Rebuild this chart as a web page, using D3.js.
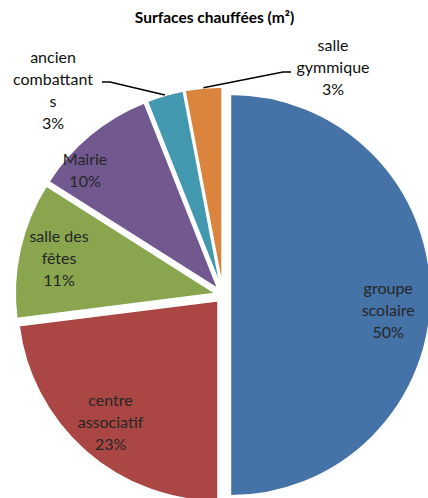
<!DOCTYPE html>
<html><head><meta charset="utf-8">
<script src="https://cdn.jsdelivr.net/npm/d3@7"></script>
<style>
html,body{margin:0;padding:0;background:#fff;overflow:hidden;}
svg{display:block;font-family:Lato,"Open Sans",sans-serif;}
</style></head>
<body>
<svg id="chart" width="428" height="498"></svg>
<script>
// ---- data ----
const title = "Surfaces chauffées (m²)";
const categories = ["groupe scolaire", "centre associatif", "salle des fêtes", "Mairie", "ancien combattants", "salle gymmique"];
const labelLines = [["groupe", "scolaire"], ["centre", "associatif"], ["salle des", "fêtes"], ["Mairie"], ["ancien", "combattant", "s"], ["salle", "gymmique"]];
const values = [50, 23, 11, 10, 3, 3];
const percentLabels = ["50%", "23%", "11%", "10%", "3%", "3%"];
const colors = ["#4572A7", "#AA4643", "#89A54E", "#71588F", "#4198AF", "#DB843D"];

// ---- layout ----
const W = 428, H = 498;
const cx = 223, cy = 295, R = 201, explode = 7.2;
const lineH = 22;
// label placement: [radius factor, angle nudge (rad), outside?]
const labelLayout = [
  {rf: 0.79, da: 0.10},
  {rf: 0.81, da: 0},
  {rf: 0.80, da: 0},
  {rf: 0.89, da: -0.15},
  {outside: true, lx: 53, ly: 90, ex: 110, side: -1},
  {outside: true, lx: 333, ly: 67, ex: 283, side: 1}
];

const svg = d3.select("#chart");
svg.append("text").attr("x", 214.5).attr("y", 23)
  .attr("text-anchor", "middle").attr("font-weight", "bold")
  .attr("font-size", 15.5).attr("fill", "#000").text(title);

const pie = d3.pie().sort(null).value(d => d)(values);
const arc = d3.arc().innerRadius(0).outerRadius(R);

const g = svg.append("g").attr("transform", `translate(${cx},${cy})`);

function dir(a) { return [Math.sin(a), -Math.cos(a)]; }

pie.forEach((p, i) => {
  const mid = (p.startAngle + p.endAngle) / 2;
  const [dx, dy] = dir(mid);
  const ox = dx * explode, oy = dy * explode;
  g.append("path")
    .attr("d", arc(p))
    .attr("transform", `translate(${ox},${oy})`)
    .attr("fill", colors[i])
    .attr("stroke", "#fff").attr("stroke-width", 2).attr("stroke-linejoin", "round");
});

pie.forEach((p, i) => {
  const L = labelLayout[i];
  const mid = (p.startAngle + p.endAngle) / 2;
  const [dx, dy] = dir(mid);
  const ox = dx * explode, oy = dy * explode;
  const lines = labelLines[i].concat([percentLabels[i]]);
  let lx, ly;
  if (!L.outside) {
    const [ddx, ddy] = dir(mid + L.da);
    lx = cx + ox + ddx * R * L.rf;
    ly = cy + oy + ddy * R * L.rf;
  } else {
    lx = L.lx; ly = L.ly;
    // leader line from arc edge to elbow
    const px = cx + ox + dx * R, py = cy + oy + dy * R;
    const ey = L.side < 0 ? 82 : 72;
    const pts = [[px, py], [L.ex, ey], [L.ex + L.side * 8, ey]];
    svg.append("path")
      .attr("d", d3.line()(pts))
      .attr("fill", "none").attr("stroke", "#000").attr("stroke-width", 1.6);
  }
  const t = svg.append("text")
    .attr("text-anchor", "middle")
    .attr("font-size", 16)
    .attr("fill", L.outside ? "#111" : "#262626");
  const n = lines.length;
  lines.forEach((s, k) => {
    t.append("tspan").attr("x", lx)
      .attr("y", ly + (k - (n - 1) / 2) * lineH + 5.5)
      .text(s);
  });
});
</script>
</body></html>
